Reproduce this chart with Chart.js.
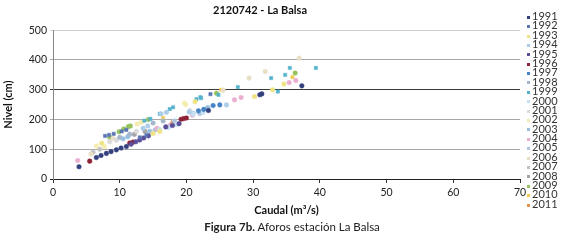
<!DOCTYPE html>
<html><head><meta charset="utf-8">
<script src="https://cdn.jsdelivr.net/npm/chart.js@4/dist/chart.umd.min.js"></script>
<style>
html,body{margin:0;padding:0;background:#fff;}
#wrap{position:relative;width:572px;height:241px;overflow:hidden;font-family:Lato,"Open Sans",sans-serif;}
#legend{position:absolute;left:527px;top:11px;font-size:11px;color:#333;line-height:9.4px;}
#legend div{white-space:nowrap;height:9.4px;}
#legend span.m{display:inline-block;width:3px;height:3px;margin-right:2px;vertical-align:middle;}
#caption{position:absolute;left:0;width:584px;top:220px;text-align:center;font-size:11.5px;color:#222;}
</style></head>
<body><div id="wrap"><canvas id="c" width="572" height="241"></canvas>
<div id="legend"></div>
<div id="caption"><b>Figura 7b.</b> Aforos estación La Balsa</div></div>
<script>
const years = ["1991","1992","1993","1994","1995","1996","1997","1998","1999","2000","2001","2002","2003","2004","2005","2006","2007","2008","2009","2010","2011"];
const colors = ["#34407E","#5A76B4","#EFE483","#ABCDE9","#5A4F98","#8E2236","#4582C6","#A3B7CD","#55B3CD","#C5E0F2","#DADADA","#F5EDB0","#98BFE2","#EAAFD0","#AFC5E1","#E8DFC6","#C2C2C2","#A4A4A4","#95C25E","#F3CB50","#E3914A"];
const yTicks = [0,50,100,150,200,250,300,350,400,450,500];
const xTicks = [0,10,20,30,40,50,60,70];
// [caudal m3/s, nivel cm]
const s1991 = [[3.9,41],[6.5,72],[7.2,79],[8,86],[8.7,92],[9.5,98],[10.2,104],[11,109],[31,283],[31.3,286],[37.3,313],[23.3,230]];
const s1992 = [[7.8,145],[8.4,148],[9.1,152],[10.3,160],[11,165],[23.6,285],[13,140],[14,147]];
const s1993 = [[15,153],[16,160],[30.2,277],[34.6,319],[32.9,300],[21.3,260],[7.3,120]];
const s1994 = [[16.2,219],[17,224],[26,249],[20.4,225],[13.5,170],[14.2,178]];
const s1995 = [[11.7,117],[12.4,125],[13,131],[13.6,138],[14.3,145],[16.9,175],[17.9,180],[18.9,186]];
const s1996 = [[5.5,60],[11.5,121],[19.2,201],[20,205],[19.6,203],[12,124]];
const s1997 = [[24,247],[25,249],[22.6,234],[21.8,229]];
const s1998 = [[10,140],[11.5,150],[16.5,195],[15,188]];
const s1999 = [[22.1,275],[21.5,268],[17.5,235],[18,241],[13.7,196],[22.2,272],[27.7,309],[35.5,373],[34.8,350],[39.4,373],[32.7,339],[33.7,294],[16,219],[24.8,283],[14.6,202]];
const s2000 = [[16,166],[17.3,173],[18.5,183],[21,218],[22.5,224]];
const s2001 = [[8.5,125],[9.5,130],[12.5,160],[20.5,230]];
const s2002 = [[6.5,111],[7.7,109],[19.7,255],[19.9,250],[12.6,185],[13.2,190]];
const s2003 = [[10.5,135],[11.2,142],[23.2,240],[14.5,160]];
const s2004 = [[3.7,62],[27.2,266],[28.2,274],[35.4,324],[36.4,331],[15.6,170],[17.5,180],[20.9,214]];
const s2005 = [[21,221],[22,220],[18.2,195],[15.3,165]];
const s2006 = [[29.4,339],[31.8,361],[36.9,406],[5.7,83],[25.5,298],[9,136]];
const s2007 = [[6,90],[7,100]];
const s2008 = [[12.2,150],[13.8,160]];
const s2009 = [[9.9,159],[11.3,176],[11.6,178],[24.5,288],[36.3,356],[10.6,168],[8.5,140],[14.3,200]];
const s2010 = [[25.2,300],[35.9,342],[16.5,205]];
const s2011 = [[17.8,190]];
const series = [s1991,s1992,s1993,s1994,s1995,s1996,s1997,s1998,s1999,s2000,s2001,s2002,s2003,s2004,s2005,s2006,s2007,s2008,s2009,s2010,s2011];
const shapes = ["circle","rect","circle","circle","circle","circle","circle","circle","rect","circle","circle","circle","circle","circle","circle","circle","circle","circle","circle","rect","triangle"];

const datasets = years.map((y,i)=>({
  label:y,
  data:series[i].map(p=>({x:p[0],y:p[1]})),
  backgroundColor:colors[i],
  borderColor:colors[i],
  pointStyle:shapes[i],
  pointRadius:2.3,
  pointBorderWidth:0.5,
  showLine:false
}));

const gridCol = v => (v>=450?"#cfcfcf":(v===300||v===250)?"#3a3a3a":(v===0?"#222":"#a8a8a8"));

new Chart(document.getElementById("c"),{
  type:"scatter",
  data:{datasets},
  options:{
    responsive:false,animation:false,devicePixelRatio:1,
    layout:{padding:{left:0,right:52,top:0,bottom:24}},
    plugins:{
      legend:{display:false},tooltip:{enabled:false},
      title:{display:true,text:"2120742 - La Balsa",color:"#111",font:{family:"Lato",size:11,weight:"bold"},padding:{top:4,bottom:13}}
    },
    scales:{
      x:{type:"linear",min:0,max:70,
        afterBuildTicks:s=>{s.ticks=xTicks.map(v=>({value:v}));},
        ticks:{color:"#222",font:{family:"Lato",size:10.5},padding:3,maxRotation:0},
        grid:{drawOnChartArea:false,tickLength:4,color:"#333"},
        border:{color:"#222",width:1},
        title:{display:true,text:"Caudal (m³/s)",color:"#111",font:{family:"Lato",size:11,weight:"bold"},padding:{top:0,bottom:0}},
        afterFit:s=>{s.height=38;}
      },
      y:{type:"linear",min:0,max:500,
        afterBuildTicks:s=>{s.ticks=yTicks.map(v=>({value:v}));},
        ticks:{color:"#222",font:{family:"Lato",size:10.5},padding:3},
        grid:{color:c=>gridCol(c.tick?c.tick.value:0),tickLength:3},
        border:{color:"#888",width:1},
        title:{display:true,text:"Nivel (cm)",color:"#111",font:{family:"Lato",size:11,weight:"bold"},padding:{top:2,bottom:0}},
        afterFit:s=>{s.width=53;}
      }
    }
  }
});

const lg=document.getElementById("legend");
years.forEach((y,i)=>{
  const d=document.createElement("div");
  const m=document.createElement("span");m.className="m";m.style.background=colors[i];
  d.appendChild(m);d.appendChild(document.createTextNode(y));lg.appendChild(d);
});
</script></body></html>
